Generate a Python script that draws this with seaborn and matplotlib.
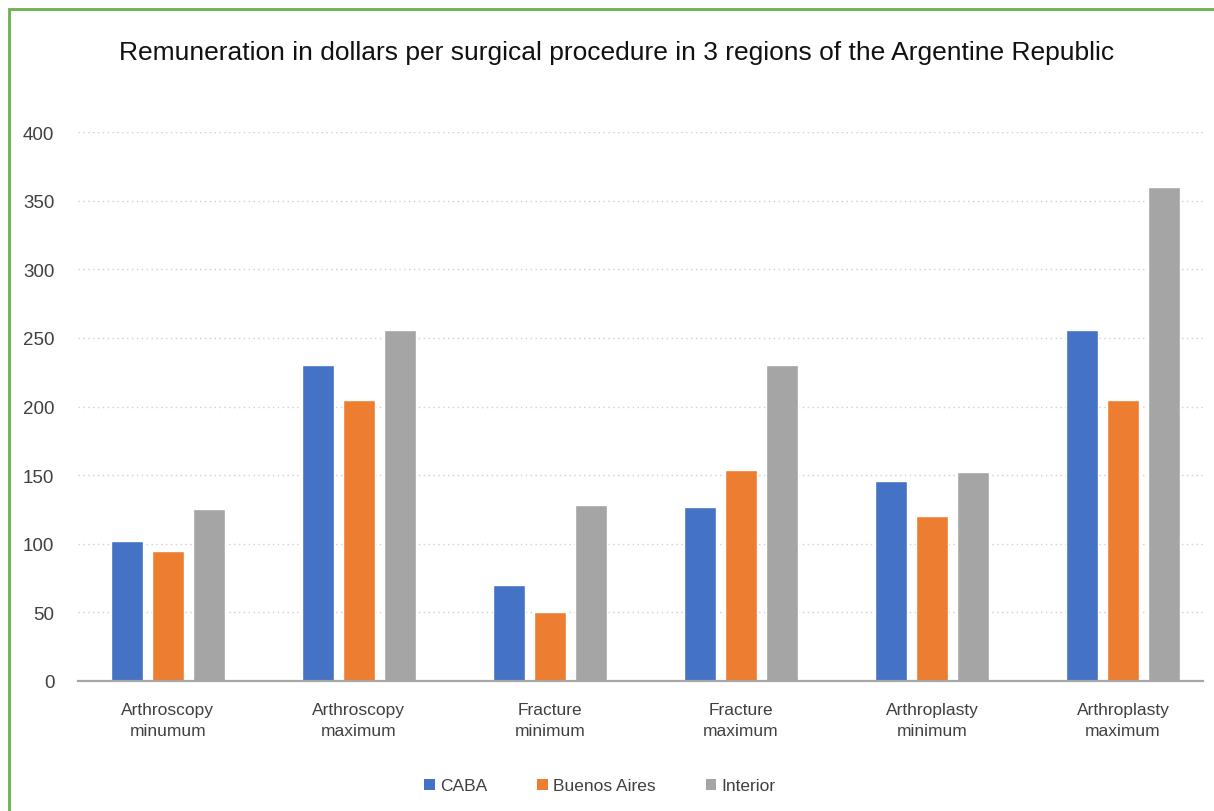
import matplotlib
matplotlib.use("Agg")
import matplotlib.pyplot as plt
from matplotlib.patches import Rectangle, Patch
import seaborn as sns
import pandas as pd

procedures = [
    "Arthroscopy\nminumum",
    "Arthroscopy\nmaximum",
    "Fracture\nminimum",
    "Fracture\nmaximum",
    "Arthroplasty\nminimum",
    "Arthroplasty\nmaximum",
]
regions = ["CABA", "Buenos Aires", "Interior"]
caba = [102, 230, 70, 127, 146, 256]
buenos_aires = [95, 205, 50, 154, 120, 205]
interior = [125, 256, 128, 230, 152, 360]
colors = ["#4472C4", "#ED7D31", "#A5A5A5"]

rows = []
for region, vals in zip(regions, [caba, buenos_aires, interior]):
    for proc, v in zip(procedures, vals):
        rows.append({"procedure": proc, "region": region, "value": v})
df = pd.DataFrame(rows)

sns.set_theme(style="white")
plt.rcParams["font.family"] = ["Liberation Sans", "DejaVu Sans"]

fig = plt.figure(figsize=(12.14, 8.12), dpi=100)
ax = fig.add_axes([78 / 1214, 1 - 682 / 812, (1203 - 78) / 1214, (682 - 133) / 812])

sns.barplot(
    data=df, x="procedure", y="value", hue="region", order=procedures,
    hue_order=regions, palette=colors, width=0.645, gap=0.22,
    saturation=1, legend=False, ax=ax, zorder=3,
)

ax.set_ylim(0, 400)
ax.set_xlim(-0.471, 5.419)
ax.set_yticks(range(0, 401, 50))
ax.yaxis.grid(True, linestyle=(0, (1, 2.5)), color="#cfcfcf", linewidth=1.0, zorder=0)
ax.xaxis.grid(False)
for side in ["left", "right", "top"]:
    ax.spines[side].set_visible(False)
ax.spines["bottom"].set_color("#a6a6a6")
ax.spines["bottom"].set_linewidth(1.6)
ax.spines["bottom"].set_zorder(4)
ax.set_xlabel("")
ax.set_ylabel("")
ax.tick_params(axis="y", length=0, pad=17, labelsize=13.5, labelcolor="#404040")
ax.tick_params(axis="x", length=0, pad=15, labelsize=12.5, labelcolor="#404040")
for lbl in ax.get_xticklabels():
    lbl.set_linespacing(1.5)

fig.text(617 / 1214, 1 - 53 / 812, "Remuneration in dollars per surgical procedure in 3 regions of the Argentine Republic",
         ha="center", va="center", fontsize=19, color="#111111")

handles = [Patch(facecolor=c, edgecolor="none", label=r) for c, r in zip(colors, regions)]
fig.legend(handles=handles, loc="center", bbox_to_anchor=(600 / 1214, 1 - 787 / 812),
           ncol=3, frameon=False, fontsize=12.5, handlelength=0.6, handleheight=0.6,
           handletextpad=0.3, columnspacing=2.9, labelcolor="#404040")

fig.patches.append(Rectangle((9 / 1214, -0.2), 1.5, 1.2 - 10 / 812, transform=fig.transFigure,
                             fill=False, edgecolor="#6ab04c", linewidth=2.0))

fig.savefig("out.png", dpi=100, facecolor="white")
